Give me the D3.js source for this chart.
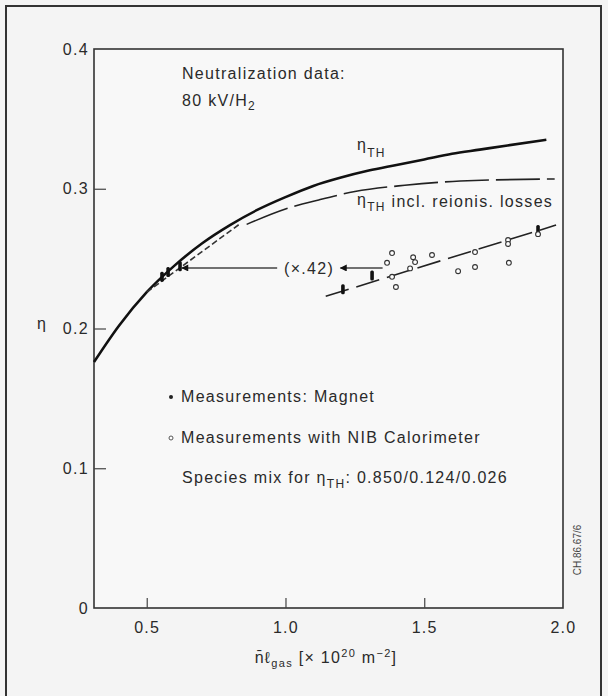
<!DOCTYPE html>
<html>
<head>
<meta charset="utf-8">
<script src="https://cdn.jsdelivr.net/npm/d3@7"></script>
<style>
  html, body { margin: 0; padding: 0; background: #f4f4f4; }
  svg { display: block; font-family: "Liberation Sans", Arial, sans-serif; }
  .lbl { font-size: 16px; fill: #2a2a2a; letter-spacing: 1.3px; }
</style>
</head>
<body>
<svg id="chart" width="608" height="696"></svg>
<script>
// theoretical efficiency eta_TH (solid)
const thX = [0.31, 0.4, 0.5, 0.6, 0.7, 0.8, 0.9, 1.0, 1.1, 1.2, 1.3, 1.4, 1.5, 1.6, 1.7, 1.8, 1.94];
const thY = [0.176, 0.202, 0.226, 0.245, 0.261, 0.274, 0.285, 0.294, 0.302, 0.308, 0.313, 0.317, 0.321, 0.325, 0.328, 0.331, 0.335];

// eta_TH incl. reionisation losses (long dashes)
const reX = [0.86, 1.0, 1.12, 1.25, 1.43, 1.63, 1.97];
const reY = [0.2745, 0.2855, 0.292, 0.298, 0.3025, 0.3055, 0.307];

// fit through measurements, and the same fit shifted by x.42
const fitX = [1.145, 1.975];
const fitY = [0.223, 0.274];
const shiftX = [0.50, 0.84];
const shiftY = [0.226, 0.2755];

// measurements: magnet (filled bars)
const magX = [1.207, 1.312, 1.91, 0.555, 0.577, 0.62];
const magY = [0.228, 0.238, 0.2705, 0.237, 0.2404, 0.2445];

// measurements with NIB calorimeter (open circles)
const calX = [1.384, 1.366, 1.384, 1.398, 1.46, 1.467, 1.449, 1.528, 1.622, 1.683, 1.683, 1.802, 1.802, 1.805, 1.91];
const calY = [0.254, 0.247, 0.237, 0.2297, 0.251, 0.2475, 0.243, 0.2526, 0.241, 0.2547, 0.244, 0.2633, 0.2605, 0.247, 0.2675];

const xTicks = [0.5, 1.0, 1.5, 2.0];
const yTicks = [0, 0.1, 0.2, 0.3, 0.4];

const svg = d3.select("#chart");

const x = d3.scaleLinear().domain([0.31, 2.0]).range([94, 563]);
const y = d3.scaleLinear().domain([0, 0.4]).range([608, 49]);

// outer scanned frame
svg.append("rect")
  .attr("x", 6).attr("y", 6).attr("width", 595).attr("height", 700)
  .attr("fill", "none").attr("stroke", "#333").attr("stroke-width", 2);

// plot frame
svg.append("rect")
  .attr("x", x(0.31)).attr("y", y(0.4))
  .attr("width", x(2.0) - x(0.31)).attr("height", y(0) - y(0.4))
  .attr("fill", "#f8f8f8").attr("stroke", "#333").attr("stroke-width", 1.6);

// axes, ticks pointing inside
const xAxis = svg.append("g")
  .attr("transform", `translate(0,${y(0)})`)
  .call(d3.axisBottom(x).tickValues(xTicks).tickSize(-10).tickPadding(14)
    .tickFormat(d3.format(".1f")));
const yAxis = svg.append("g")
  .attr("transform", `translate(${x(0.31)},0)`)
  .call(d3.axisLeft(y).tickValues(yTicks).tickSize(-12).tickPadding(5)
    .tickFormat(d => d === 0 ? "0" : d3.format(".1f")(d)));

[xAxis, yAxis].forEach(a => {
  a.select(".domain").remove();
  a.selectAll("line").attr("stroke", "#444").attr("stroke-width", 1.2);
  a.selectAll("text").attr("class", "lbl").attr("font-family", null).attr("font-size", null);
});
yAxis.selectAll(".tick").filter(d => d === 0 || d === 0.4).select("line").remove();
xAxis.selectAll(".tick").filter(d => d === 2.0).select("line").remove();

const zip = (xs, ys) => xs.map((v, i) => ({ x: v, y: ys[i] }));
const line = d3.line().x(d => x(d.x)).y(d => y(d.y)).curve(d3.curveMonotoneX);

svg.append("path").datum(zip(thX, thY))
  .attr("d", line).attr("fill", "none")
  .attr("stroke", "#111").attr("stroke-width", 2.6);

svg.append("path").datum(zip(reX, reY))
  .attr("d", line).attr("fill", "none")
  .attr("stroke", "#222").attr("stroke-width", 1.6)
  .attr("stroke-dasharray", "44,7");

svg.append("path").datum(zip(fitX, fitY))
  .attr("d", line).attr("fill", "none")
  .attr("stroke", "#222").attr("stroke-width", 1.6)
  .attr("stroke-dasharray", "24,8");

svg.append("path").datum(zip(shiftX, shiftY))
  .attr("d", line).attr("fill", "none")
  .attr("stroke", "#333").attr("stroke-width", 1.6)
  .attr("stroke-dasharray", "6,3");

// arrow markers
svg.append("defs").append("marker")
  .attr("id", "head").attr("viewBox", "0 0 10 10")
  .attr("refX", 9).attr("refY", 5)
  .attr("markerWidth", 9).attr("markerHeight", 7)
  .attr("markerUnits", "userSpaceOnUse")
  .attr("orient", "auto")
  .append("path").attr("d", "M0,0L10,5L0,10Z").attr("fill", "#111");

const arrowY = 0.2433;
const arrows = [{ from: 0.97, to: 0.627 }, { from: 1.35, to: 1.198 }];
svg.selectAll(".arrow").data(arrows).join("line")
  .attr("class", "arrow")
  .attr("x1", d => x(d.from)).attr("x2", d => x(d.to))
  .attr("y1", y(arrowY)).attr("y2", y(arrowY))
  .attr("stroke", "#444").attr("stroke-width", 1.3)
  .attr("marker-end", "url(#head)");

svg.append("text").attr("class", "lbl")
  .attr("x", x(1.085)).attr("y", y(arrowY) + 6)
  .attr("text-anchor", "middle").text("(×.42)");

// data points
svg.selectAll(".mag").data(zip(magX, magY)).join("rect")
  .attr("class", "mag")
  .attr("x", d => x(d.x) - 1.8).attr("y", d => y(d.y) - 5)
  .attr("width", 3.6).attr("height", 10).attr("rx", 1.5)
  .attr("fill", "#111");

svg.selectAll(".cal").data(zip(calX, calY)).join("circle")
  .attr("class", "cal")
  .attr("cx", d => x(d.x)).attr("cy", d => y(d.y)).attr("r", 2.4)
  .attr("fill", "#fff").attr("stroke", "#333").attr("stroke-width", 1.1);

// annotations
const txt = (px, py, parts) => {
  const t = svg.append("text").attr("class", "lbl").attr("x", px).attr("y", py);
  parts.forEach(p => {
    const s = t.append("tspan").text(p.t);
    if (p.sub) s.attr("font-size", 12).attr("dy", p.sub);
    if (p.back) s.attr("dy", p.back);
  });
  return t;
};

txt(182, 79, [{ t: "Neutralization data:" }]);
txt(182, 106, [{ t: "80 kV/H" }, { t: "2", sub: 4 }]);

txt(357, 150, [{ t: "η" }, { t: "TH", sub: 7 }]);
txt(357, 205, [{ t: "η" }, { t: "TH", sub: 6 }, { t: " incl. reionis. losses", back: -4 }]);

svg.append("circle").attr("cx", 171).attr("cy", 397).attr("r", 2).attr("fill", "#222");
txt(181, 402, [{ t: "Measurements: Magnet" }]);
svg.append("circle").attr("cx", 171).attr("cy", 438).attr("r", 2)
  .attr("fill", "#fff").attr("stroke", "#555").attr("stroke-width", 1);
txt(181, 443, [{ t: "Measurements with NIB Calorimeter" }]);
txt(182, 483, [{ t: "Species mix for η" }, { t: "TH", sub: 5 }, { t: ": 0.850/0.124/0.026", back: -5 }]);

// axis titles
svg.append("text").attr("class", "lbl").attr("x", 42).attr("y", 329)
  .attr("text-anchor", "middle").text("η");

const xt = svg.append("text").attr("class", "lbl")
  .attr("x", 326).attr("y", 663).attr("text-anchor", "middle");
xt.append("tspan").text("n̄ℓ");
xt.append("tspan").text("gas").attr("font-size", 11).attr("dy", 4);
xt.append("tspan").text(" [× 10").attr("dy", -4);
xt.append("tspan").text("20").attr("font-size", 11).attr("dy", -6);
xt.append("tspan").text(" m").attr("dy", 6);
xt.append("tspan").text("−2").attr("font-size", 11).attr("dy", -6);
xt.append("tspan").text("]").attr("dy", 6);

// figure id on the right margin
svg.append("text")
  .attr("transform", "translate(581,550) rotate(-90)")
  .attr("text-anchor", "middle")
  .attr("font-size", 10).attr("fill", "#444")
  .text("CH.86.67/6");
</script>
</body>
</html>
